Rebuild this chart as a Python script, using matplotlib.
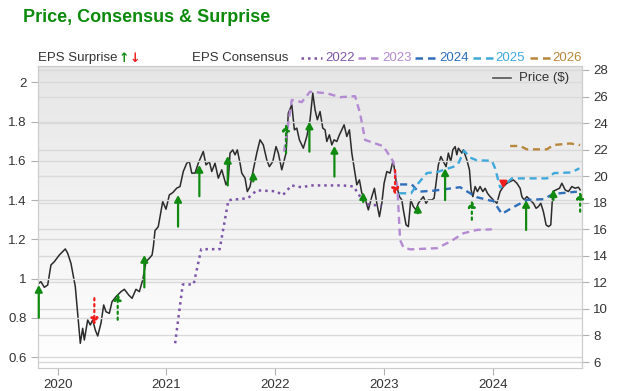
import numpy as np
import matplotlib.pyplot as plt
from matplotlib.lines import Line2D
from matplotlib.ticker import FuncFormatter

plt.rcParams['font.family'] = ['Liberation Sans', 'DejaVu Sans']

# --- price ($), right axis ---
price_dates = [2019.825, 2019.846, 2019.877, 2019.908, 2019.938, 2019.969, 2020.015, 2020.070,
               2020.092, 2020.122, 2020.162, 2020.184, 2020.208, 2020.230, 2020.245, 2020.276,
               2020.300, 2020.322, 2020.346, 2020.368, 2020.398, 2020.423, 2020.444, 2020.475,
               2020.500, 2020.536, 2020.582, 2020.613, 2020.653, 2020.684, 2020.720, 2020.751,
               2020.782, 2020.812, 2020.843, 2020.868, 2020.880, 2020.895, 2020.925, 2020.966,
               2020.996, 2021.027, 2021.058, 2021.095, 2021.125, 2021.155, 2021.187, 2021.211,
               2021.233, 2021.263, 2021.293, 2021.339, 2021.364, 2021.395, 2021.417, 2021.447,
               2021.477, 2021.509, 2021.548, 2021.569, 2021.585, 2021.610, 2021.631, 2021.652,
               2021.677, 2021.693, 2021.723, 2021.744, 2021.769, 2021.799, 2021.831, 2021.861,
               2021.891, 2021.923, 2021.947, 2021.978, 2022.008, 2022.029, 2022.061, 2022.100,
               2022.121, 2022.153, 2022.177, 2022.199, 2022.223, 2022.259, 2022.291, 2022.321,
               2022.346, 2022.367, 2022.388, 2022.413, 2022.438, 2022.459, 2022.475, 2022.499,
               2022.521, 2022.542, 2022.567, 2022.591, 2022.613, 2022.634, 2022.659, 2022.683,
               2022.705, 2022.729, 2022.751, 2022.775, 2022.797, 2022.827, 2022.857, 2022.889,
               2022.913, 2022.935, 2022.959, 2022.981, 2023.002, 2023.027, 2023.057, 2023.082,
               2023.094, 2023.119, 2023.143, 2023.165, 2023.179, 2023.204, 2023.225, 2023.247,
               2023.271, 2023.296, 2023.317, 2023.339, 2023.363, 2023.388, 2023.409, 2023.441,
               2023.462, 2023.480, 2023.501, 2023.524, 2023.547, 2023.572, 2023.593, 2023.615,
               2023.634, 2023.655, 2023.671, 2023.685, 2023.717, 2023.731, 2023.763, 2023.787,
               2023.802, 2023.818, 2023.839, 2023.860, 2023.885, 2023.910, 2023.931, 2023.952,
               2023.977, 2024.007, 2024.039, 2024.069, 2024.099, 2024.131, 2024.161, 2024.191,
               2024.223, 2024.253, 2024.269, 2024.290, 2024.315, 2024.345, 2024.375, 2024.400,
               2024.421, 2024.443, 2024.467, 2024.492, 2024.513, 2024.535, 2024.554, 2024.584,
               2024.615, 2024.637, 2024.667, 2024.697, 2024.729, 2024.759, 2024.789, 2024.805]
price_values = [11.93, 12.05, 11.63, 11.80, 13.31, 13.56, 14.06, 14.52,
                14.19, 13.44, 11.68, 9.67, 7.41, 8.54, 7.66, 9.17,
                8.79, 9.17, 8.41, 7.96, 8.92, 10.30, 9.79, 9.67,
                10.55, 10.92, 11.30, 11.48, 11.05, 10.80, 11.48, 11.30,
                12.18, 13.56, 13.82, 14.06, 14.70, 15.90, 16.20, 18.09,
                17.51, 18.59, 18.76, 19.10, 19.22, 20.35, 20.98, 21.10,
                20.23, 20.23, 20.98, 21.86, 20.85, 21.10, 20.35, 20.98,
                19.85, 20.48, 19.35, 19.72, 21.74, 21.98, 21.61, 21.98,
                20.98, 20.23, 19.85, 18.84, 19.22, 20.48, 21.74, 22.74,
                22.36, 21.23, 20.72, 21.10, 22.23, 21.74, 20.48, 21.74,
                24.75, 25.38, 23.49, 23.62, 22.74, 22.11, 22.99, 24.25,
                26.26, 25.00, 24.25, 24.87, 23.62, 23.49, 22.61, 23.12,
                22.36, 22.74, 22.61, 23.12, 23.49, 23.87, 22.99, 23.49,
                21.74, 20.48, 19.35, 19.72, 18.72, 18.34, 17.46, 18.46,
                19.09, 17.96, 16.95, 17.96, 19.47, 20.35, 20.23, 21.10,
                20.72, 19.22, 18.46, 18.21, 17.46, 16.33, 16.20, 18.21,
                17.71, 17.46, 17.96, 18.21, 18.46, 17.96, 18.21, 18.21,
                18.34, 19.47, 20.85, 21.48, 21.10, 20.72, 21.74, 21.10,
                21.98, 22.23, 21.61, 22.11, 21.74, 21.98, 21.23, 20.48,
                18.97, 18.46, 19.22, 18.84, 19.22, 18.84, 19.09, 18.72,
                18.46, 18.21, 17.96, 18.84, 19.22, 19.47, 19.59, 19.72,
                19.47, 19.09, 18.46, 18.21, 18.46, 18.21, 17.96, 17.58,
                17.71, 17.96, 17.33, 16.33, 16.20, 16.33, 18.84, 18.97,
                19.09, 19.47, 18.97, 18.84, 19.22, 19.09, 19.17, 18.97]

# --- EPS consensus by fiscal year, left axis ---
c2022_dates = [2021.080, 2021.150, 2021.250, 2021.320, 2021.490, 2021.570, 2021.750, 2021.830,
               2022.010, 2022.070, 2022.150, 2022.250, 2022.320, 2022.620, 2022.720, 2022.780,
               2022.840, 2022.980]
c2022_eps = [0.67, 0.97, 0.97, 1.15, 1.15, 1.40, 1.41, 1.45,
             1.445, 1.425, 1.475, 1.465, 1.475, 1.475, 1.47, 1.42,
             1.38, 1.37]

c2023_dates = [2022.082, 2022.153, 2022.245, 2022.321, 2022.475, 2022.597, 2022.735, 2022.781,
               2022.827, 2022.995, 2023.087, 2023.124, 2023.149, 2023.179, 2023.241, 2023.487,
               2023.609, 2023.731, 2023.855, 2023.993]
c2023_eps = [1.647, 1.911, 1.90, 1.953, 1.945, 1.925, 1.93, 1.843,
             1.707, 1.675, 1.596, 1.469, 1.197, 1.159, 1.149, 1.155,
             1.188, 1.231, 1.248, 1.251]

c2024_dates = [2023.149, 2023.257, 2023.317, 2023.455, 2023.701, 2023.793, 2023.855, 2023.977,
               2024.007, 2024.085, 2024.177, 2024.315, 2024.467, 2024.559, 2024.775]
c2024_eps = [1.48, 1.48, 1.443, 1.448, 1.466, 1.435, 1.415, 1.398,
             1.396, 1.33, 1.36, 1.401, 1.405, 1.432, 1.443]

c2025_dates = [2023.140, 2023.250, 2023.303, 2023.395, 2023.499, 2023.639, 2023.683, 2023.738,
               2023.793, 2023.855, 2023.993, 2024.023, 2024.069, 2024.106, 2024.177, 2024.499,
               2024.566, 2024.722, 2024.798]
c2025_eps = [1.435, 1.435, 1.477, 1.538, 1.545, 1.57, 1.585, 1.652,
             1.617, 1.603, 1.601, 1.562, 1.465, 1.475, 1.511, 1.511,
             1.538, 1.541, 1.562]

c2026_dates = [2024.161, 2024.253, 2024.315, 2024.499, 2024.559, 2024.713, 2024.805]
c2026_eps = [1.676, 1.676, 1.659, 1.659, 1.681, 1.689, 1.681]

# --- EPS surprises: consensus before -> reported ---
surp_dates = [2019.826, 2020.337, 2020.552, 2020.797, 2021.107, 2021.303, 2021.564, 2021.799,
              2022.100, 2022.315, 2022.545, 2022.810, 2023.103, 2023.312, 2023.563, 2023.809,
              2024.099, 2024.308, 2024.559, 2024.805]
surp_from = [0.80, 0.90, 0.79, 0.955, 1.265, 1.42, 1.475, 1.495,
             1.64, 1.647, 1.52, 1.39, 1.553, 1.333, 1.40, 1.30,
             1.498, 1.248, 1.40, 1.341]
surp_to = [0.967, 0.763, 0.925, 1.12, 1.426, 1.579, 1.625, 1.545,
           1.79, 1.80, 1.676, 1.44, 1.426, 1.376, 1.562, 1.40,
           1.46, 1.40, 1.455, 1.443]
surp_dotted = [False, True, True, False, False, False, False, False,
               True, False, False, False, True, False, False, True,
               False, False, False, True]

years = [2020, 2021, 2022, 2023, 2024]
eps_ticks = [0.6, 0.8, 1.0, 1.2, 1.4, 1.6, 1.8, 2.0]
price_ticks = [6, 8, 10, 12, 14, 16, 18, 20, 22, 24, 26, 28]

col_2022 = '#7d55a8'
col_2023 = '#b48ad2'
col_2024 = '#2f6eb8'
col_2025 = '#3fa9db'
col_2026 = '#b8873c'
green = '#118a11'
red = '#f21c1c'
grid_c = '#d9d9d9'
txt_c = '#333333'

fig = plt.figure(figsize=(6.2, 3.91), dpi=100)
ax = fig.add_axes([0.0613, 0.0588, 0.8774, 0.7724])
ax2 = ax.twinx()
ax.set_zorder(ax2.get_zorder() + 1)
ax.patch.set_visible(False)

# grey-to-white background
grad = np.linspace(0, 1, 256).reshape(-1, 1)
ax2.imshow(grad, extent=[0, 1, 0, 1], transform=ax2.transAxes, aspect='auto',
           cmap=plt.matplotlib.colors.LinearSegmentedColormap.from_list('bg', ['#e6e6e6', '#ffffff']),
           origin='upper', zorder=0)

ax2.plot(price_dates, price_values, color='#2b2b2b', lw=1.1, zorder=3)

ax.plot(c2022_dates, c2022_eps, color=col_2022, lw=1.8, linestyle=(0, (1, 1.6)))
ax.plot(c2023_dates, c2023_eps, color=col_2023, lw=1.7, linestyle=(0, (3, 2)))
ax.plot(c2024_dates, c2024_eps, color=col_2024, lw=1.7, linestyle=(0, (3, 2)))
ax.plot(c2025_dates, c2025_eps, color=col_2025, lw=1.7, linestyle=(0, (3, 2)))
ax.plot(c2026_dates, c2026_eps, color=col_2026, lw=1.7, linestyle=(0, (3, 2)))

for d, a, b, dotted in zip(surp_dates, surp_from, surp_to, surp_dotted):
    c = green if b > a else red
    ax.annotate('', xy=(d, b), xytext=(d, a),
                arrowprops=dict(arrowstyle='-|>,head_length=0.55,head_width=0.3',
                                color=c, lw=1.6, linestyle=':' if dotted else '-',
                                shrinkA=0, shrinkB=0, mutation_scale=7))

ax.set_xlim(2019.819, 2024.822)
ax.set_ylim(0.544, 2.084)
ax2.set_ylim(5.55, 28.3)
ax2.set_xlim(2019.819, 2024.822)

ax.set_xticks(years)
ax.set_xticklabels([str(y) for y in years])
ax.set_yticks(eps_ticks)
ax.yaxis.set_major_formatter(FuncFormatter(lambda v, p: '%g' % v))
ax2.set_yticks(price_ticks)

ax2.grid(True, color=grid_c, lw=1)
ax.grid(True, axis='y', color=grid_c, lw=1)
ax.set_axisbelow(True)

for a in (ax, ax2):
    a.tick_params(length=5, color='#b0b0b0', labelsize=9.5, labelcolor=txt_c, pad=3)
    for s in a.spines.values():
        s.set_color('#cccccc')

# title
fig.text(23 / 620, 1 - 17 / 391, 'Price, Consensus & Surprise', color='#0b8a0b',
         fontsize=13, fontweight='bold', va='center')

# legend row above the plot
ly = 1 - 58 / 391
fig.text(38 / 620, ly, 'EPS Surprise', fontsize=9.5, color=txt_c, va='center')
fig.text(119 / 620, ly, '\u2191', fontsize=9, color=green, fontweight='bold', va='center',
         family='DejaVu Sans')
fig.text(130 / 620, ly, '\u2193', fontsize=9, color=red, fontweight='bold', va='center',
         family='DejaVu Sans')
fig.text(192 / 620, ly, 'EPS Consensus', fontsize=9.5, color=txt_c, va='center')

leg_items = [('2022', col_2022, (0, (1, 1.6)), 301, 322, 325),
             ('2023', col_2023, (0, (3, 2)), 358, 380, 382),
             ('2024', col_2024, (0, (3, 2)), 415, 437, 439),
             ('2025', col_2025, (0, (3, 2)), 473, 493, 495),
             ('2026', col_2026, (0, (3, 2)), 530, 550, 552)]
for lab, c, ls, x0, x1, xt in leg_items:
    fig.add_artist(Line2D([x0 / 620, x1 / 620], [ly, ly], transform=fig.transFigure,
                          color=c, lw=1.8, linestyle=ls))
    fig.text(xt / 620, ly, lab, fontsize=9.5, color=c, va='center')

# price legend inside plot
py = 1 - 78 / 391
fig.add_artist(Line2D([493 / 620, 511 / 620], [py, py], transform=fig.transFigure,
                      color='#555555', lw=1.2))
fig.text(519 / 620, py, 'Price ($)', fontsize=9.5, color=txt_c, va='center')

fig.savefig('out.png', dpi=100, facecolor='white')
